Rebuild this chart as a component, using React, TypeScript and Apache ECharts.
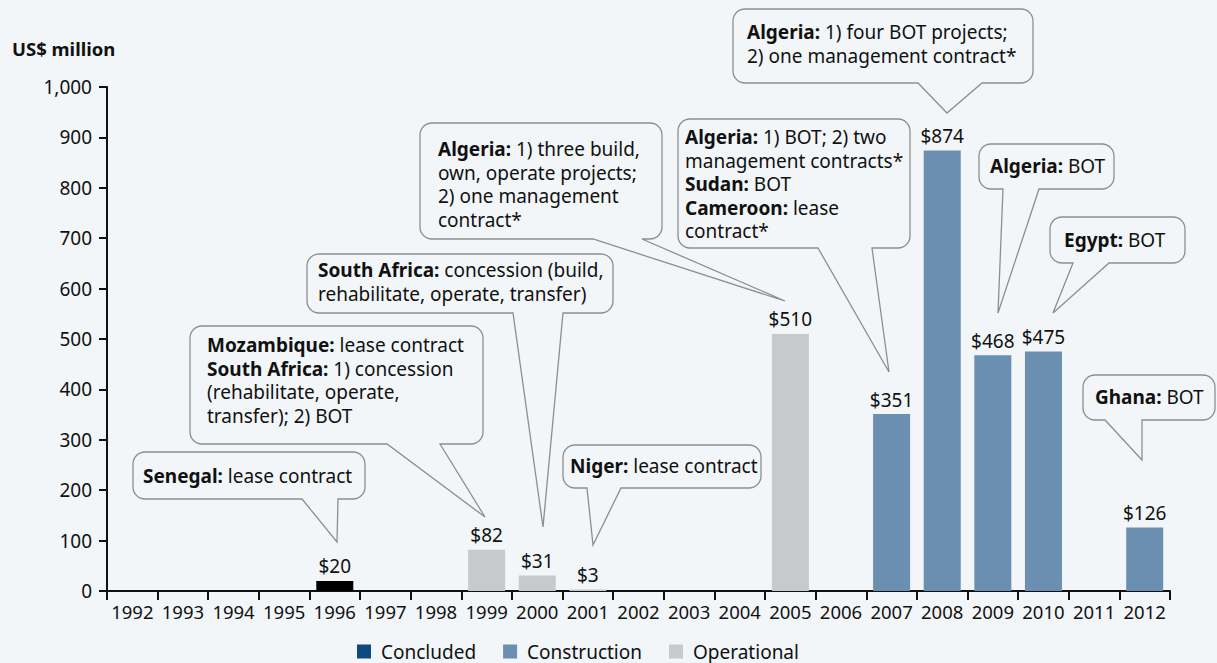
import React, { useEffect, useRef } from "react";
import * as echarts from "echarts";

const years = ["1992","1993","1994","1995","1996","1997","1998","1999","2000","2001","2002","2003","2004","2005","2006","2007","2008","2009","2010","2011","2012"];
const concluded = [null,null,null,null,20,null,null,null,null,null,null,null,null,null,null,null,null,null,null,null,null];
const construction = [null,null,null,null,null,null,null,null,null,null,null,null,null,null,null,351,874,468,475,null,126];
const operational = [null,null,null,null,null,null,null,82,31,3,null,null,null,510,null,null,null,null,null,null,null];
const yTicks = [0, 1000, 100];

const callouts = [
  { lines: ["{b|Senegal:} lease contract"], box: [133, 452, 232, 47], base: [302, 338], tip: [337, 542] },
  { lines: ["{b|Mozambique:} lease contract", "{b|South Africa:} 1) concession", "(rehabilitate, operate,", "transfer); 2) BOT"], box: [190, 326, 293, 118], base: [387, 440], tip: [485, 517] },
  { lines: ["{b|South Africa:} concession (build,", "rehabilitate, operate, transfer)"], box: [307, 254, 306, 59], base: [513, 563], tip: [543, 527] },
  { lines: ["{b|Algeria:} 1) three build,", "own, operate projects;", "2) one management", "contract*"], box: [420, 123, 242, 116], base: [593, 642], tip: [785, 301] },
  { lines: ["{b|Niger:} lease contract"], box: [563, 445, 198, 43], base: [587, 621], tip: [593, 545] },
  { lines: ["{b|Algeria:} 1) BOT; 2) two", "management contracts*", "{b|Sudan:} BOT", "{b|Cameroon:} lease", "contract*"], box: [678, 119, 232, 129], base: [818, 872], tip: [889, 372] },
  { lines: ["{b|Algeria:} 1) four BOT projects;", "2) one management contract*"], box: [733, 9, 300, 74], base: [918, 982], tip: [947, 113] },
  { lines: ["{b|Algeria:} BOT"], box: [979, 144, 135, 45], base: [1003, 1039], tip: [998, 313] },
  { lines: ["{b|Egypt:} BOT"], box: [1050, 217, 135, 46], base: [1073, 1109], tip: [1053, 313] },
  { lines: ["{b|Ghana:} BOT"], box: [1083, 375, 132, 45], base: [1105, 1142], tip: [1142, 460] },
];

const FONT = "'Noto Sans', sans-serif";
const BG = "#f2f6f8";
const LH = 23.5;
const FS = 19;

let registered = false;
function registerCallout() {
  if (registered) return;
  registered = true;
  const Callout = (echarts.graphic as any).extendShape({
    type: "callout",
    shape: { x: 0, y: 0, w: 0, h: 0, r: 12, b1: 0, b2: 0, tx: 0, ty: 0 },
    buildPath(ctx: any, s: any) {
      const { x, y, w, h, r, b1, b2, tx, ty } = s;
      ctx.moveTo(x + r, y);
      ctx.lineTo(x + w - r, y);
      ctx.arc(x + w - r, y + r, r, -Math.PI / 2, 0, false);
      ctx.lineTo(x + w, y + h - r);
      ctx.arc(x + w - r, y + h - r, r, 0, Math.PI / 2, false);
      ctx.lineTo(b2, y + h);
      ctx.lineTo(tx, ty);
      ctx.lineTo(b1, y + h);
      ctx.lineTo(x + r, y + h);
      ctx.arc(x + r, y + h - r, r, Math.PI / 2, Math.PI, false);
      ctx.lineTo(x, y + r);
      ctx.arc(x + r, y + r, r, Math.PI, Math.PI * 1.5, false);
      ctx.closePath();
    },
  });
  echarts.graphic.registerShape("callout", Callout);
}

export default function App() {
  const ref = useRef<HTMLDivElement>(null);
  useEffect(() => {
    document.body.style.margin = "0";
    registerCallout();
    const chart = echarts.init(ref.current!, null, { renderer: "svg" });
    const graphics: any[] = [];
    callouts.forEach((c) => {
      const [x, y, w, h] = c.box;
      graphics.push({
        type: "callout",
        z: 10,
        shape: { x, y, w, h, r: 12, b1: c.base[0], b2: c.base[1], tx: c.tip[0], ty: c.tip[1] },
        style: { fill: BG, stroke: "#8e8e8e", lineWidth: 1.3 },
      });
    });
    const textPos = [
      [143, 476], [207, 345], [318, 270], [438, 149], [570, 466],
      [685, 137], [747, 32], [990, 166], [1064, 240], [1095, 397],
    ];
    callouts.forEach((c, i) => {
      graphics.push({
        type: "text",
        z: 11,
        x: textPos[i][0],
        y: textPos[i][1] - LH / 2,
        style: {
          text: c.lines.join("\n"),
          fontSize: FS,
          fontFamily: FONT,
          fill: "#111",
          lineHeight: LH,
          verticalAlign: "top",
          rich: { b: { fontSize: FS, fontFamily: FONT, fontWeight: "bold", fill: "#111", lineHeight: LH } },
        },
      });
    });
    graphics.push({
      type: "text", x: 12, y: 48,
      style: { text: "US$ million", fontSize: 18.5, fontFamily: FONT, fontWeight: "bold", fill: "#111", verticalAlign: "middle" },
    });

    const label = {
      show: true, position: "top", distance: 5, fontSize: FS, fontFamily: FONT, color: "#111",
      formatter: (p: any) => "$" + p.value,
    };
    chart.setOption({
      animation: false,
      backgroundColor: BG,
      textStyle: { fontFamily: FONT },
      grid: { left: 107, right: 47, top: 87, bottom: 72 },
      legend: {
        left: 352, top: 637, itemWidth: 14, itemHeight: 14, itemGap: 27, icon: "rect",
        textStyle: { fontSize: FS, fontFamily: FONT, color: "#111", padding: [0, 0, 0, 5] },
        data: ["Concluded", "Construction", "Operational"],
      },
      xAxis: {
        type: "category", data: years, boundaryGap: true,
        axisLine: { lineStyle: { color: "#111", width: 2 } },
        axisTick: { show: true, length: 9, lineStyle: { color: "#111", width: 2 } },
        axisLabel: { interval: 0, fontSize: 18.5, color: "#111", margin: 11, fontFamily: FONT },
      },
      yAxis: {
        type: "value", min: yTicks[0], max: yTicks[1], interval: yTicks[2],
        axisLine: { show: true, lineStyle: { color: "#111", width: 2 } },
        axisTick: { show: true, length: 8, lineStyle: { color: "#111", width: 2 } },
        axisLabel: { fontSize: FS, color: "#111", margin: 15, fontFamily: FONT, formatter: (v: number) => v.toLocaleString("en-US") },
        splitLine: { show: false },
      },
      series: [
        { name: "Concluded", type: "bar", stack: "t", barWidth: 37, itemStyle: { color: "#0c4a80" },
          data: concluded.map((v) => (v == null ? null : { value: v, itemStyle: { color: "#000" } })), label },
        { name: "Construction", type: "bar", stack: "t", barWidth: 37, itemStyle: { color: "#6a8fb0" }, data: construction, label },
        { name: "Operational", type: "bar", stack: "t", barWidth: 37, itemStyle: { color: "#c8c9cb" }, data: operational, label },
      ],
      graphic: graphics,
    });
    return () => chart.dispose();
  }, []);
  return <div ref={ref} style={{ width: 1217, height: 663, background: BG }} />;
}
